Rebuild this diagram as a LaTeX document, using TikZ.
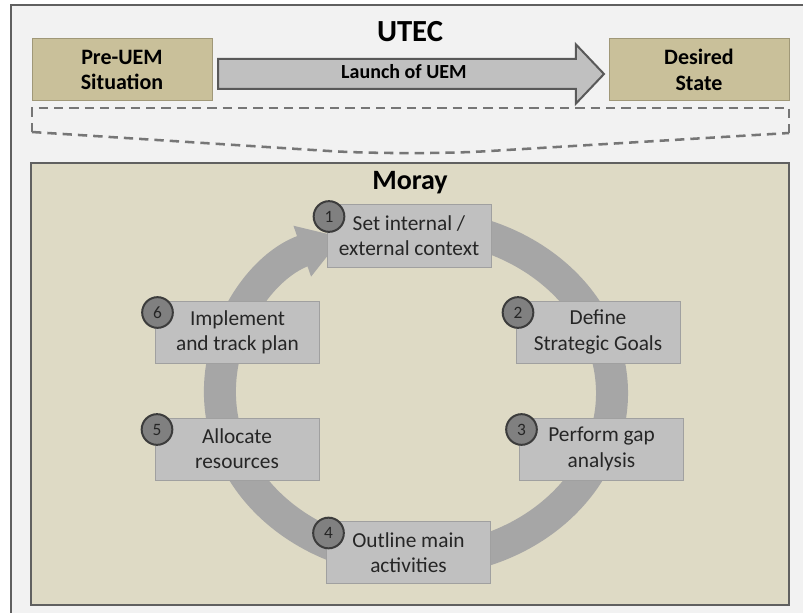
\documentclass[tikz,border=0pt]{standalone}
\usepackage{fontspec}
\setmainfont{Carlito}
\usetikzlibrary{arrows.meta,shapes.arrows,calc}

\definecolor{framebg}{RGB}{242,242,242}
\definecolor{frameline}{RGB}{96,96,96}
\definecolor{tanbox}{RGB}{201,192,154}
\definecolor{tanline}{RGB}{160,152,120}
\definecolor{panelbg}{RGB}{222,218,197}
\definecolor{stepfill}{RGB}{192,192,192}
\definecolor{stepline}{RGB}{160,160,160}
\definecolor{ringgray}{RGB}{166,166,166}
\definecolor{dotfill}{RGB}{128,128,128}
\definecolor{dotline}{RGB}{60,60,60}
\definecolor{steptext}{RGB}{38,38,38}
\definecolor{dashgray}{RGB}{118,118,118}

\tikzset{every picture/.style={line width=0.75pt}}
\tikzset{
  statebox/.style={draw=tanline, fill=tanbox, minimum width=135pt, minimum height=46.5pt,
    inner sep=0pt, align=center, font=\fontsize{16.5}{19}\selectfont\bfseries},
  stepbox/.style={draw=stepline, fill=stepfill, minimum width=123pt, minimum height=46.5pt,
    inner sep=0pt, align=center, text=steptext, font=\fontsize{16}{19}\selectfont},
  numdot/.style={circle, draw=dotline, line width=1.5pt, fill=dotfill, minimum size=23pt,
    inner sep=0pt, text=steptext, font=\fontsize{13}{15}\selectfont},
  bracketline/.style={dashgray, line width=1.9pt, dash pattern=on 7pt off 4.5pt},
}

\begin{document}
\begin{tikzpicture}[x=0.75pt,y=0.75pt,yscale=-1,xscale=1]
\useasboundingbox (0,0) rectangle (803,613);

%Shape: Outer frame
\fill[framebg] (11,5) rectangle (803,613);
\draw[frameline, line width=1.5pt] (11,613) -- (11,5) -- (803,5);

% Text Node
\node[font=\fontsize{23}{26}\selectfont\bfseries] (utec) at (410,32) {UTEC};

%Shape: Rectangle
\node[statebox] (pre) at (122,70) {Pre-UEM\\Situation};
%Shape: Rectangle
\node[statebox] (desired) at (699,70) {Desired\\State};

%Shape: Right Arrow
\node[single arrow, draw={rgb,255:red,89;green,89;blue,89}, fill=stepfill, line width=1.5pt,
  single arrow tip angle=93, single arrow head extend=10.9pt, minimum height=289.5pt,
  text height=9pt, text depth=2pt, inner ysep=5pt, inner xsep=0pt, anchor=tail,
  font=\fontsize{15}{17}\selectfont\bfseries] (launch) at (217,74) {Launch of UEM};

%Shape: Dashed bracket
\draw[bracketline] (32,132) -- (32,108) -- (789,108) -- (789,133);
\draw[bracketline, rounded corners=60pt] (32,132) -- (407,156) -- (789,133);

%Shape: Panel
\node[draw=frameline, fill=panelbg, line width=1.5pt, minimum width=568.5pt,
  minimum height=331.5pt, inner sep=0pt] (panel) at (410,384) {};
% Text Node
\node[font=\fontsize{21}{24}\selectfont\bfseries] (moray) at (410,183) {Moray};

%Shape: Circular Arrow
\draw[ringgray, line width=24pt, -{Triangle[width=38pt,length=32pt]}]
  (416,393) ++(260:196 and 168) arc[start angle=260, end angle=608, x radius=196, y radius=168];

%Shape: Steps
\node[stepbox] (setctx) at (409,236) {Set internal /\\external context};
\node[stepbox] (goals) at (598,332) {Define\\Strategic Goals};
\node[stepbox] (gap) at (601.5,449) {Perform gap\\analysis};
\node[stepbox] (outline) at (408.5,552.5) {Outline main\\activities};
\node[stepbox] (alloc) at (237,449) {Allocate\\resources};
\node[stepbox] (track) at (237.5,332) {Implement\\and track plan};

%Shape: Number circles
\foreach \b/\n in {setctx/1,goals/2,gap/3,outline/4,alloc/5,track/6}
  \node[numdot] (dot\n) at ($(\b.north west)+(2.5,12)$) {\n};

\end{tikzpicture}
\end{document}
